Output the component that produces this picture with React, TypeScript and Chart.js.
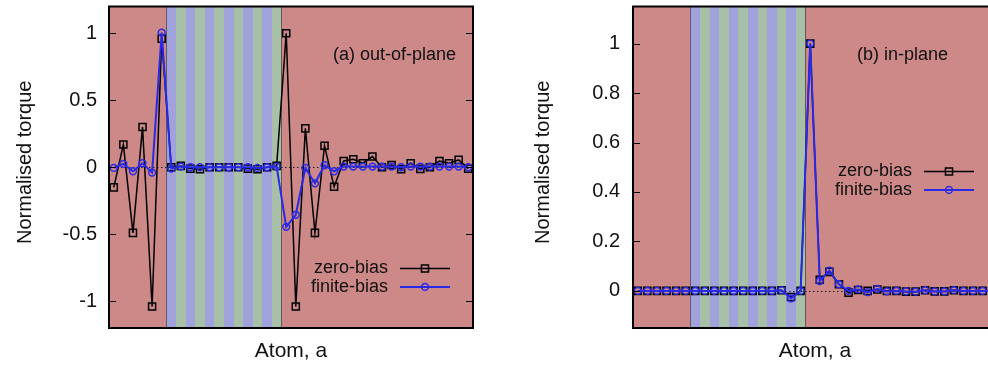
import React, { useEffect, useRef } from "react";
import { Chart, registerables } from "chart.js";

Chart.register(...registerables);

// ---------- data ----------
const atoms = [1, 2, 3, 4, 5, 6, 7, 8, 9, 10, 11, 12, 13, 14, 15, 16, 17, 18, 19, 20, 21, 22, 23, 24, 25, 26, 27, 28, 29, 30, 31, 32, 33, 34, 35, 36, 37, 38];
const stripeAtoms = [7, 8, 9, 10, 11, 12, 13, 14, 15, 16, 17, 18];

// panel (a) out-of-plane
const zeroBiasA = [-0.15, 0.17, -0.49, 0.30, -1.04, 0.96, 0.0, 0.01, -0.01, -0.015, 0.0, 0.0, 0.0, 0.0, -0.01, -0.015, 0.0, 0.01, 1.0, -1.04, 0.29, -0.49, 0.16, -0.145, 0.047, 0.06, 0.03, 0.08, 0.0, 0.017, -0.015, 0.03, -0.012, 0.0, 0.047, 0.03, 0.055, -0.01];
const finiteBiasA = [-0.005, 0.025, -0.03, 0.03, -0.04, 1.005, -0.01, 0.005, 0.0, 0.0, 0.0, 0.0, 0.0, 0.0, 0.0, -0.005, 0.0, 0.005, -0.445, -0.355, -0.005, -0.12, 0.015, -0.03, 0.005, 0.005, 0.005, 0.005, 0.005, 0.005, 0.0, 0.005, 0.005, 0.005, 0.005, 0.005, 0.005, 0.0];

// panel (b) in-plane
const zeroBiasB = [0, 0, 0, 0, 0, 0, 0, 0, 0, 0, 0, 0, 0, 0, 0, 0.003, -0.025, 0, 1.0, 0.045, 0.077, 0.027, -0.007, 0.004, 0.0, 0.006, 0.0, 0.0, -0.003, -0.003, 0.003, -0.002, -0.002, 0.003, 0.0, 0.0, 0.0, 0.0];
const finiteBiasB = [0, 0, 0, 0, 0, 0, 0, 0, 0, 0, 0, 0, 0, 0, 0, 0.003, -0.03, 0, 1.0, 0.04, 0.082, 0.027, 0.0, 0.006, -0.005, 0.008, -0.002, 0.0, -0.002, -0.003, 0.003, -0.002, -0.002, 0.003, 0.0, 0.0, 0.0, 0.0];

const yTicksA = [-1, -0.5, 0, 0.5, 1];
const yTicksB = [0, 0.2, 0.4, 0.6, 0.8, 1];

const seriesLabels = ["zero-bias", "finite-bias"];
const xTitle = "Atom, a";
const yTitle = "Normalised torque";

// ---------- styles ----------
const FONT = "'Liberation Sans', Arial, Helvetica, sans-serif";
const RED = "#cd8888";
const BLUE_STRIPE = "#a1a1dc";
const GREEN_STRIPE = "#a8bfa8";
const BLACK = "#000000";
const BLUE = "#2a2ae6";
const TEXT = "#111111";

type PanelCfg = {
  title: string;
  zero: number[];
  finite: number[];
  yMin: number;
  yMax: number;
  yTicks: number[];
  yAxisWidth: number;
  padRight: number;
  yTitleX: number;
  tickPad: number;
  legendTop: number;
};

function drawMarker(ctx: CanvasRenderingContext2D, style: string, x: number, y: number, r: number) {
  ctx.beginPath();
  if (style === "rect") {
    const s = Math.SQRT1_2 * r;
    ctx.rect(x - s, y - s, 2 * s, 2 * s);
  } else {
    ctx.arc(x, y, r, 0, Math.PI * 2);
  }
  ctx.stroke();
}

function makePlugin(cfg: PanelCfg) {
  return {
    id: "panelDecor",
    beforeDatasetsDraw(chart: any) {
      const { ctx, chartArea: a, scales } = chart;
      const xs = scales.x;
      const ys = scales.y;
      ctx.save();
      ctx.fillStyle = RED;
      ctx.fillRect(a.left, a.top, a.right - a.left, a.bottom - a.top);
      stripeAtoms.forEach((atom, i) => {
        const x0 = Math.round(xs.getPixelForValue(atom - 0.5));
        const x1 = Math.round(xs.getPixelForValue(atom + 0.5));
        ctx.fillStyle = i % 2 === 0 ? BLUE_STRIPE : GREEN_STRIPE;
        ctx.fillRect(x0, a.top, x1 - x0, a.bottom - a.top);
      });
      const e0 = Math.round(xs.getPixelForValue(stripeAtoms[0] - 0.5));
      const e1 = Math.round(xs.getPixelForValue(stripeAtoms[stripeAtoms.length - 1] + 0.5));
      ctx.strokeStyle = "rgba(70,70,70,0.75)";
      ctx.lineWidth = 1;
      [e0, e1].forEach((x) => {
        ctx.beginPath();
        ctx.moveTo(x + 0.5, a.top);
        ctx.lineTo(x + 0.5, a.bottom);
        ctx.stroke();
      });
      const y0 = Math.round(ys.getPixelForValue(0)) + 0.5;
      ctx.setLineDash([1.5, 2.5]);
      ctx.strokeStyle = "#222";
      ctx.beginPath();
      ctx.moveTo(a.left, y0);
      ctx.lineTo(a.right, y0);
      ctx.stroke();
      ctx.restore();
    },
    afterDatasetsDraw(chart: any) {
      const { ctx, chartArea: a, scales } = chart;
      const ys = scales.y;
      ctx.save();
      ctx.strokeStyle = BLACK;
      ctx.lineWidth = 1;
      cfg.yTicks.forEach((v) => {
        const y = Math.round(ys.getPixelForValue(v)) + 0.5;
        ctx.beginPath();
        ctx.moveTo(a.left, y);
        ctx.lineTo(a.left + 7, y);
        ctx.moveTo(a.right, y);
        ctx.lineTo(a.right - 7, y);
        ctx.stroke();
      });
      ctx.lineWidth = 2;
      ctx.strokeRect(a.left, a.top, a.right - a.left, a.bottom - a.top);
      ctx.restore();
    },
    afterDraw(chart: any) {
      const { ctx, chartArea: a } = chart;
      ctx.save();
      // y-axis title
      ctx.fillStyle = TEXT;
      ctx.font = `20px ${FONT}`;
      ctx.textAlign = "center";
      ctx.textBaseline = "middle";
      ctx.translate(cfg.yTitleX, (a.top + a.bottom) / 2 - 5);
      ctx.rotate(-Math.PI / 2);
      ctx.fillText(yTitle, 0, 0);
      ctx.restore();

      ctx.save();
      ctx.fillStyle = TEXT;
      ctx.font = `18px ${FONT}`;
      ctx.textBaseline = "middle";
      ctx.textAlign = "left";
      ctx.fillText(cfg.title, a.left + 224, a.top + 49);
      chart.data.datasets.forEach((ds: any, i: number) => {
        const y = a.top + cfg.legendTop + i * 18.4;
        ctx.fillStyle = TEXT;
        ctx.textAlign = "right";
        ctx.fillText(ds.label, a.right - 85, y);
        ctx.strokeStyle = ds.borderColor;
        ctx.lineWidth = ds.borderWidth;
        ctx.beginPath();
        ctx.moveTo(a.right - 73, y);
        ctx.lineTo(a.right - 23, y);
        ctx.stroke();
        ctx.lineWidth = 1.5;
        drawMarker(ctx, ds.pointStyle, a.right - 48, y, ds.pointRadius);
      });
      ctx.restore();
    },
  };
}

function buildConfig(cfg: PanelCfg): any {
  const mk = (vals: number[]) => atoms.map((x, i) => ({ x, y: vals[i] }));
  return {
    type: "line",
    data: {
      datasets: [
        {
          label: seriesLabels[0],
          data: mk(cfg.zero),
          order: 2,
          borderColor: BLACK,
          borderWidth: 1.5,
          pointStyle: "rect",
          pointRadius: 5,
          pointBorderWidth: 1.5,
          pointBorderColor: BLACK,
          pointBackgroundColor: "rgba(0,0,0,0)",
          tension: 0,
          fill: false,
        },
        {
          label: seriesLabels[1],
          data: mk(cfg.finite),
          order: 1,
          borderColor: BLUE,
          borderWidth: 2,
          pointStyle: "circle",
          pointRadius: 3.4,
          pointBorderWidth: 1.5,
          pointBorderColor: BLUE,
          pointBackgroundColor: "rgba(0,0,0,0)",
          tension: 0,
          fill: false,
        },
      ],
    },
    options: {
      animation: false,
      responsive: false,
      devicePixelRatio: 1,
      events: [],
      layout: { padding: { left: 0, right: cfg.padRight, top: 4, bottom: 0 } },
      plugins: { legend: { display: false }, tooltip: { enabled: false }, title: { display: false } },
      scales: {
        x: {
          type: "linear",
          min: 0.5,
          max: 38.5,
          ticks: { display: false },
          grid: { display: false, drawTicks: false },
          border: { display: false },
          title: {
            display: true,
            text: xTitle,
            color: TEXT,
            font: { family: FONT, size: 21 },
            padding: { top: 0, bottom: 6 },
          },
          afterFit: (s: any) => {
            s.height = 42;
            s.paddingLeft = 0;
            s.paddingRight = 0;
          },
        },
        y: {
          type: "linear",
          min: cfg.yMin,
          max: cfg.yMax,
          afterBuildTicks: (s: any) => {
            s.ticks = cfg.yTicks.map((v) => ({ value: v }));
          },
          ticks: {
            callback: (v: any) => String(v),
            color: TEXT,
            font: { family: FONT, size: 20 },
            padding: cfg.tickPad,
          },
          grid: { display: false, drawTicks: false },
          border: { display: false },
          title: { display: false },
          afterFit: (s: any) => {
            s.width = cfg.yAxisWidth;
            s.paddingTop = 0;
            s.paddingBottom = 0;
          },
        },
      },
    },
    plugins: [makePlugin(cfg)],
  };
}

const panelA: PanelCfg = {
  title: "(a) out-of-plane",
  zero: zeroBiasA,
  finite: finiteBiasA,
  yMin: -1.2,
  yMax: 1.2,
  yTicks: yTicksA,
  yAxisWidth: 109,
  padRight: 21,
  yTitleX: 25,
  tickPad: 12,
  legendTop: 262,
};

const panelB: PanelCfg = {
  title: "(b) in-plane",
  zero: zeroBiasB,
  finite: finiteBiasB,
  yMin: -0.15,
  yMax: 1.15,
  yTicks: yTicksB,
  yAxisWidth: 139,
  padRight: 13,
  yTitleX: 49,
  tickPad: 13,
  legendTop: 165,
};

function Panel({ cfg, left, width }: { cfg: PanelCfg; left: number; width: number }) {
  const ref = useRef<HTMLCanvasElement | null>(null);
  useEffect(() => {
    if (!ref.current) return;
    const chart = new Chart(ref.current, buildConfig(cfg));
    return () => chart.destroy();
  }, [cfg]);
  return (
    <canvas
      ref={ref}
      width={width}
      height={370}
      style={{ position: "absolute", left, top: 0, width, height: 370, display: "block" }}
    />
  );
}

export default function App() {
  return (
    <div
      style={{
        position: "fixed",
        left: 0,
        top: 0,
        width: 988,
        height: 370,
        overflow: "hidden",
        background: "#ffffff",
      }}
    >
      <Panel cfg={panelA} left={0} width={494} />
      <Panel cfg={panelB} left={494} width={516} />
    </div>
  );
}
